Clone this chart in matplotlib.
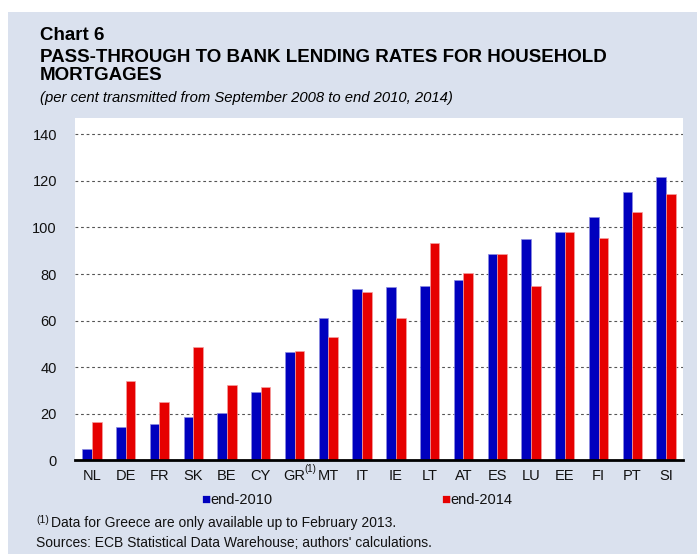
import matplotlib
matplotlib.use("Agg")
import matplotlib.pyplot as plt
from matplotlib.patches import Rectangle
import numpy as np

plt.rcParams['font.family'] = ['Liberation Sans', 'DejaVu Sans']

categories = ["NL", "DE", "FR", "SK", "BE", "CY", "GR", "MT", "IT", "IE",
              "LT", "AT", "ES", "LU", "EE", "FI", "PT", "SI"]
end_2010 = [4.9, 14.3, 15.6, 18.5, 20.3, 29.3, 46.4, 61.1, 73.6, 74.6,
            74.7, 77.6, 88.5, 95.0, 98.1, 104.4, 115.4, 121.8]
end_2014 = [16.5, 33.9, 25.0, 48.5, 32.4, 31.5, 47.1, 53.0, 72.4, 61.1,
            93.2, 80.3, 88.6, 74.9, 97.9, 95.5, 106.8, 114.5]
yticks = [0, 20, 40, 60, 80, 100, 120, 140]

W, H = 697, 554
fig = plt.figure(figsize=(W / 100, H / 100), dpi=100)
fig.patch.set_facecolor('white')
bg = '#DAE1EE'
fig.patches.append(Rectangle((8 / W, 0), 1 - 8 / W, 1 - 12 / H, transform=fig.transFigure,
                             facecolor=bg, edgecolor='none', zorder=-10))

ax = fig.add_axes([75 / W, 1 - 460.3 / H, (683 - 75) / W, (460.3 - 118) / H])
ax.set_zorder(2)
ax.set_facecolor('white')
x = np.arange(len(categories))
bw = 0.285
blue = '#0000BE'
red = '#E60000'
ax.bar(x - bw / 2, end_2010, bw, color=blue, edgecolor='#8C8CE0', linewidth=0.5, zorder=3,
       label='end-2010')
ax.bar(x + bw / 2, end_2014, bw, color=red, edgecolor='#F4A0A0', linewidth=0.5, zorder=3,
       label='end-2014')

ax.set_xlim(-0.5, len(categories) - 0.5)
ax.set_ylim(0, 140 * (460.3 - 118) / (460.3 - 134.3))
ax.set_yticks(yticks)
ax.set_yticklabels([str(v) for v in yticks], fontsize=10.5, color='#111111')
ax.set_xticks(x)
ax.set_xticklabels(categories, fontsize=10.5, color='#111111')
ax.tick_params(axis='both', length=0)
ax.tick_params(axis='y', pad=13)
ax.tick_params(axis='x', pad=6)
for s in ['top', 'right', 'left']:
    ax.spines[s].set_visible(False)
ax.spines['bottom'].set_linewidth(2)
ax.spines['bottom'].set_color('black')
ax.spines['bottom'].set_zorder(5)
ax.yaxis.grid(True, linestyle=(0, (2.5, 2.5)), color='#555555', linewidth=0.8, zorder=1)
ax.set_axisbelow(True)

# superscript note marker on GR tick label
gi = categories.index("GR")
ax.annotate('(1)', xy=(gi, 0), xycoords=('data', 'axes fraction'),
            xytext=(7.3, -6.3), textcoords='offset points', fontsize=7,
            color='#111111', ha='left', va='center')

# legend
fig.text(201 / W, 1 - 500 / H, '\u25A0', fontsize=11, color=blue, ha='left', va='center')
fig.text(210 / W, 1 - 500 / H, 'end-2010', fontsize=10.5, color='#111111', ha='left', va='center')
fig.text(441 / W, 1 - 500 / H, '\u25A0', fontsize=11, color=red, ha='left', va='center')
fig.text(450 / W, 1 - 500 / H, 'end-2014', fontsize=10.5, color='#111111', ha='left', va='center')

# titles
fig.text(40 / W, 1 - 35 / H, 'Chart 6', fontsize=13.5, fontweight='bold', ha='left', va='center')
fig.text(40 / W, 1 - 57 / H, 'PASS-THROUGH TO BANK LENDING RATES FOR HOUSEHOLD', fontsize=13.5,
         fontweight='bold', ha='left', va='center')
fig.text(40 / W, 1 - 76 / H, 'MORTGAGES', fontsize=13.5, fontweight='bold', ha='left', va='center')
fig.text(40 / W, 1 - 98 / H, '(per cent transmitted from September 2008 to end 2010, 2014)',
         fontsize=10.7, style='italic', ha='left', va='center')

# notes
fig.text(36 / W, 1 - 520 / H, '(1)', fontsize=7.5, ha='left', va='center', color='#111111')
fig.text(51 / W, 1 - 523 / H, 'Data for Greece are only available up to February 2013.',
         fontsize=10, ha='left', va='center', color='#111111')
fig.text(36 / W, 1 - 543 / H, "Sources: ECB Statistical Data Warehouse; authors' calculations.",
         fontsize=10, ha='left', va='center', color='#111111')

fig.savefig('out.png', dpi=100, facecolor=fig.get_facecolor())
